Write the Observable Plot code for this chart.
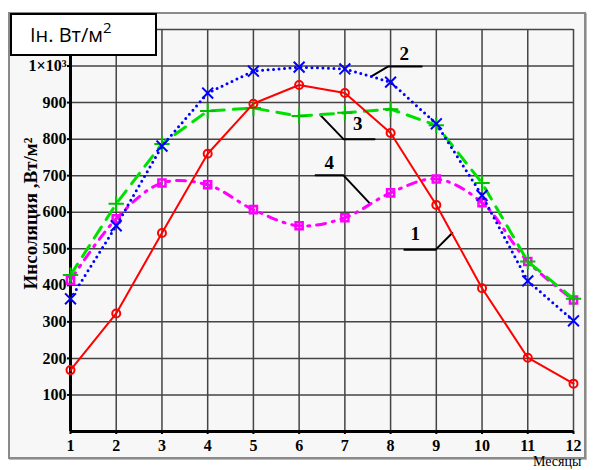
<!DOCTYPE html>
<html><head><meta charset="utf-8">
<script src="https://cdn.jsdelivr.net/npm/d3@7"></script>
<script src="https://cdn.jsdelivr.net/npm/@observablehq/plot@0.6"></script>
<style>
html,body{margin:0;padding:0;background:#fff;overflow:hidden;width:598px;height:470px;}
#wrap{position:relative;width:598px;height:470px;}
#frame{position:absolute;left:8px;top:12px;width:574px;height:443px;border:2px solid #8a8a8a;background:#f7f7f7;box-shadow:1px 1px 0 #bbb;z-index:0;}
#chart{position:absolute;left:0;top:0;z-index:1;}
#box{position:absolute;left:10px;top:13px;width:125px;height:39px;border:2px solid #000;background:#fff;z-index:2;font-family:"Open Sans","Liberation Sans",sans-serif;font-size:20px;line-height:39px;padding-left:18px;box-sizing:content-box;}
#box sup{font-size:15px;vertical-align:9px;line-height:0;}
#xlab{position:absolute;left:533px;top:455px;font-family:"Liberation Serif",serif;font-size:14px;line-height:14px;z-index:2;}
</style></head>
<body><div id="wrap"><div id="frame"></div><div id="chart"></div>
<div id="box">Iн. Вт/м<sup>2</sup></div><div id="xlab">Месяцы</div></div>
<script>
const months = [1,2,3,4,5,6,7,8,9,10,11,12];
const s1 = [168, 323, 543, 760, 897, 948, 926, 817, 620, 392, 202, 131];
const s2 = [363, 563, 781, 926, 986, 997, 992, 956, 842, 646, 412, 303];
const s3 = [428, 623, 787, 877, 885, 863, 872, 882, 838, 680, 465, 363];
const s4 = [414, 582, 680, 675, 607, 563, 585, 653, 691, 626, 465, 360];
const yTicks = [100,200,300,400,500,600,700,800,900,1000];
const yGrid = [0,100,200,300,400,500,600,700,800,900,1000,1100];
const yLabel = "Инсоляция ,Вт/м²";
const labelNames = ["1","2","3","4"];
const labelX = [8.54, 8.30, 7.28, 6.66];
const labelY = [540, 1034, 841, 734];
const leaders = [
  [[8.30,497],[8.98,497],[9.35,543]],
  [[7.58,972],[7.95,999],[8.68,999]],
  [[6.47,865],[6.97,800],[7.65,800]],
  [[6.36,701],[6.97,701],[7.54,625]]
];

const mk = s => months.map((m,i)=>({m, v:s[i]}));
const d1 = mk(s1), d2 = mk(s2), d3 = mk(s3), d4 = mk(s4);
const labels = labelNames.map((t,i)=>({t, x:labelX[i], y:labelY[i]}));
const leaderData = leaders.flatMap((pts,k)=>pts.map(p=>({k, x:p[0], y:p[1]})));
const fmt = d => d === 1000 ? "1×10³" : String(d);
const tickFont = {fontFamily:"'Liberation Serif',serif", fontWeight:"bold", fontSize:16};

const plot = Plot.plot({
  width: 598, height: 470,
  marginLeft: 70, marginRight: 25, marginTop: 29, marginBottom: 39,
  style: {background:"transparent", fontFamily:"'Liberation Serif',serif", fontWeight:"bold", fontSize:"16px", color:"#000", overflow:"visible"},
  x: {domain:[1,12], ticks: months},
  y: {domain:[0,1100]},
  marks: [
    Plot.gridX(months, {stroke:"#444", strokeOpacity:1, strokeWidth:1.5}),
    Plot.gridY(yGrid, {stroke:"#444", strokeOpacity:1, strokeWidth:1.5}),
    Plot.axisX(months, {tickSize:3, tickPadding:5, tickFormat:d=>String(d), ...tickFont, strokeWidth:2}),
    Plot.axisY(yTicks, {tickSize:3, tickPadding:1, tickFormat:fmt, ...tickFont, strokeWidth:2}),
    Plot.text([yLabel], {frameAnchor:"left", textAnchor:"middle", dx:-40, dy:-17, rotate:-90, fontFamily:"'Liberation Serif',serif", fontWeight:"bold", fontSize:19, fill:"#000"}),
    Plot.ruleX([1], {y1:0, y2:1100, stroke:"#000", strokeWidth:3}),
    Plot.ruleY([0], {x1:1, x2:12, stroke:"#000", strokeWidth:3}),
    Plot.line(leaderData, {x:"x", y:"y", z:"k", stroke:"#000", strokeWidth:2}),
    Plot.text(labels, {x:"x", y:"y", text:"t", fontFamily:"'Liberation Serif',serif", fontWeight:"bold", fontSize:19, fill:"#000"}),
    Plot.line(d4, {x:"m", y:"v", stroke:"#ff00ff", strokeWidth:3, strokeDasharray:"9 7 2 7", curve:"catmull-rom"}),
    Plot.dot(d4, {x:"m", y:"v", symbol:"square", r:4, stroke:"#ff00ff", strokeWidth:2.5, fill:"none"}),
    Plot.line(d3, {x:"m", y:"v", stroke:"#00e000", strokeWidth:3, strokeDasharray:"13 9"}),
    Plot.dot(d3, {x:"m", y:"v", symbol:"plus", r:5, stroke:"#00c000", strokeWidth:2}),
    Plot.line(d2, {x:"m", y:"v", stroke:"#0000ff", strokeWidth:3, strokeDasharray:"0 5.5", strokeLinecap:"round"}),
    Plot.dot(d2, {x:"m", y:"v", symbol:"times", r:5, stroke:"#0000ff", strokeWidth:2}),
    Plot.line(d1, {x:"m", y:"v", stroke:"#ff0000", strokeWidth:2}),
    Plot.dot(d1, {x:"m", y:"v", symbol:"circle", r:4, stroke:"#ff0000", strokeWidth:2, fill:"none"})
  ]
});
document.getElementById("chart").appendChild(plot);
</script></body></html>
